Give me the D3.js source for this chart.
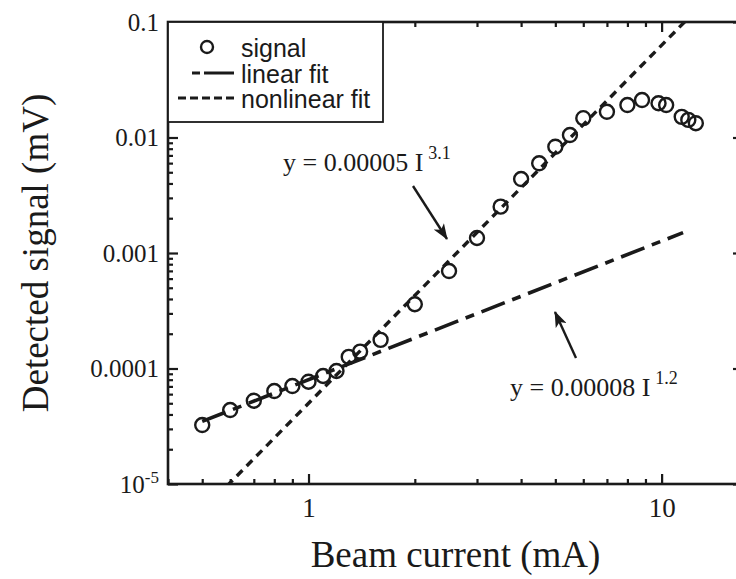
<!DOCTYPE html>
<html>
<head>
<meta charset="utf-8">
<script src="https://cdn.jsdelivr.net/npm/d3@7"></script>
<style>
  html, body { margin: 0; padding: 0; background: #fff; }
  svg { display: block; }
</style>
</head>
<body>
<svg id="chart" width="736" height="579"></svg>
<script>
// Measured signal versus beam current
const current = [0.5, 0.6, 0.7, 0.8, 0.9, 1.0, 1.1, 1.2, 1.3, 1.4, 1.6, 2.0, 2.5, 3.0, 3.5,
                 4.0, 4.5, 5.0, 5.5, 6.0, 7.0, 8.0, 8.8, 9.8, 10.3, 11.4, 11.9, 12.5];
const signal = [3.24e-5, 4.37e-5, 5.26e-5, 6.38e-5, 7.05e-5, 7.69e-5, 8.61e-5, 9.51e-5, 1.26e-4,
                1.40e-4, 1.77e-4, 3.6e-4, 6.98e-4, 1.35e-3, 2.52e-3, 4.37e-3, 5.98e-3, 8.32e-3,
                0.0105, 0.0147, 0.0167, 0.0191, 0.0211, 0.0198, 0.0191, 0.0151, 0.0142, 0.0133];

// Power-law fits y = a * I^b
const linearFit = { a: 0.00008, b: 1.2, from: 0.5, to: 11.5 };
const nonlinearFit = { a: 0.00005, b: 3.1, from: 0.4, to: 17 };

// Axis ticks
const xMajorTicks = [1, 10];
const xTickLabels = ["1", "10"];
const yMajorTicks = [1e-5, 1e-4, 1e-3, 1e-2, 1e-1];
const yTickLabels = ["10", "0.0001", "0.001", "0.01", "0.1"];

const legendLabels = ["signal", "linear fit", "nonlinear fit"];

const SERIF = "'Liberation Serif', 'Times New Roman', serif";
const SANS = "'Liberation Sans', Arial, sans-serif";
const INK = "#1a1a1a";

const plot = { left: 168, right: 743, top: 22, bottom: 484 };

const x = d3.scaleLog().domain([0.4, 17]).range([plot.left, plot.right]);
const y = d3.scaleLog().domain([1e-5, 0.1]).range([plot.bottom, plot.top]);

const svg = d3.select("#chart");

// minor ticks 2..9 in each decade inside the domain
function minorTicks(scale) {
  const [lo, hi] = scale.domain();
  const out = [];
  for (let e = Math.floor(Math.log10(lo)); e <= Math.ceil(Math.log10(hi)); e++) {
    for (let m = 2; m <= 9; m++) {
      const v = m * Math.pow(10, e);
      if (v >= lo && v <= hi) out.push(v);
    }
  }
  return out;
}
const xMinor = minorTicks(x);
const yMinor = minorTicks(y);

function styleAxis(g) {
  g.select(".domain").remove();
  g.selectAll(".tick line").attr("stroke", INK).attr("stroke-width", 2.2);
}

// bottom
svg.append("g").attr("transform", `translate(0,${plot.bottom})`)
  .call(d3.axisBottom(x).tickValues(xMinor).tickSize(-5).tickFormat(""))
  .call(styleAxis);
const xb = svg.append("g").attr("transform", `translate(0,${plot.bottom})`)
  .call(d3.axisBottom(x).tickValues(xMajorTicks).tickSize(-10).tickPadding(14)
        .tickFormat((d, i) => xTickLabels[i]))
  .call(styleAxis);
xb.selectAll(".tick text").attr("font-family", SERIF).attr("font-size", 27).attr("fill", INK);

// top (mirror)
svg.append("g").attr("transform", `translate(0,${plot.top})`)
  .call(d3.axisTop(x).tickValues(xMinor).tickSize(-5).tickFormat(""))
  .call(styleAxis);
svg.append("g").attr("transform", `translate(0,${plot.top})`)
  .call(d3.axisTop(x).tickValues(xMajorTicks).tickSize(-10).tickFormat(""))
  .call(styleAxis);

// left
svg.append("g").attr("transform", `translate(${plot.left},0)`)
  .call(d3.axisLeft(y).tickValues(yMinor).tickSize(-5).tickFormat(""))
  .call(styleAxis);
const yl = svg.append("g").attr("transform", `translate(${plot.left},0)`)
  .call(d3.axisLeft(y).tickValues(yMajorTicks).tickSize(-10).tickPadding(9)
        .tickFormat((d, i) => yTickLabels[i]))
  .call(styleAxis);
yl.selectAll(".tick text").attr("font-family", SERIF).attr("font-size", 25).attr("fill", INK);
// exponent on the lowest decade label
yl.selectAll(".tick text").filter(d => d === 1e-5)
  .text(null)
  .call(t => {
    t.append("tspan").text("10");
    t.append("tspan").attr("font-size", 17).attr("dy", -10).text("-5");
  })
  .attr("dy", "0.32em");

// right (mirror)
svg.append("g").attr("transform", `translate(${plot.right},0)`)
  .call(d3.axisRight(y).tickValues(yMinor).tickSize(-5).tickFormat(""))
  .call(styleAxis);
svg.append("g").attr("transform", `translate(${plot.right},0)`)
  .call(d3.axisRight(y).tickValues(yMajorTicks).tickSize(-10).tickFormat(""))
  .call(styleAxis);

// frame
svg.append("rect")
  .attr("x", plot.left).attr("y", plot.top)
  .attr("width", plot.right - plot.left).attr("height", plot.bottom - plot.top)
  .attr("fill", "none").attr("stroke", INK).attr("stroke-width", 2.6);

// clip for the fit lines
svg.append("clipPath").attr("id", "plotClip").append("rect")
  .attr("x", plot.left).attr("y", plot.top)
  .attr("width", plot.right - plot.left).attr("height", plot.bottom - plot.top);

const line = d3.line().x(d => x(d[0])).y(d => y(d[1]));
const fitPoints = f => [f.from, f.to].map(I => [I, f.a * Math.pow(I, f.b)]);

const LIN_DASH = "25,8,9,8";
const NONLIN_DASH = "8,6";

svg.append("path")
  .attr("clip-path", "url(#plotClip)")
  .attr("d", line(fitPoints(nonlinearFit)))
  .attr("fill", "none").attr("stroke", INK).attr("stroke-width", 3.4)
  .attr("stroke-dasharray", NONLIN_DASH);

svg.append("path")
  .attr("clip-path", "url(#plotClip)")
  .attr("d", line(fitPoints(linearFit)))
  .attr("fill", "none").attr("stroke", INK).attr("stroke-width", 3.6)
  .attr("stroke-dasharray", LIN_DASH);

// data points
svg.append("g").selectAll("circle")
  .data(current.map((c, i) => [c, signal[i]]))
  .join("circle")
  .attr("cx", d => x(d[0])).attr("cy", d => y(d[1])).attr("r", 7)
  .attr("fill", "none").attr("stroke", INK).attr("stroke-width", 2.4);

// legend
const lg = svg.append("g");
lg.append("rect").attr("x", plot.left).attr("y", plot.top)
  .attr("width", 215).attr("height", 100)
  .attr("fill", "#fff").attr("stroke", INK).attr("stroke-width", 1.8);
lg.append("circle").attr("cx", 207).attr("cy", 47).attr("r", 6)
  .attr("fill", "none").attr("stroke", INK).attr("stroke-width", 2.4);
lg.append("path").attr("d", "M192,73H234")
  .attr("stroke", INK).attr("stroke-width", 3)
  .attr("stroke-dasharray", "8,4,30,0");
lg.append("path").attr("d", "M178,98H237")
  .attr("stroke", INK).attr("stroke-width", 3)
  .attr("stroke-dasharray", "8,4");
lg.selectAll("text.leg").data(legendLabels).join("text")
  .attr("class", "leg")
  .attr("x", 241).attr("y", (d, i) => 57 + i * 25.5)
  .attr("font-family", SANS).attr("font-size", 25).attr("fill", INK)
  .text(d => d);

// fit annotations
function annotate(xp, yp, base, exp) {
  const t = svg.append("text").attr("x", xp).attr("y", yp)
    .attr("font-family", SERIF).attr("font-size", 26).attr("fill", INK);
  t.append("tspan").text(base);
  t.append("tspan").attr("dx", 5).attr("dy", -12).attr("font-size", 18).text(exp);
}
annotate(283, 171, "y = 0.00005 I", "3.1");
annotate(510, 396, "y = 0.00008 I", "1.2");

// arrows
svg.append("defs").append("marker")
  .attr("id", "head").attr("viewBox", "0 0 16 12")
  .attr("refX", 15).attr("refY", 6)
  .attr("markerWidth", 16).attr("markerHeight", 12)
  .attr("markerUnits", "userSpaceOnUse")
  .attr("orient", "auto")
  .append("path").attr("d", "M0,0L16,6L0,12L4,6Z").attr("fill", INK);

function arrow(x1, y1, x2, y2) {
  svg.append("line").attr("x1", x1).attr("y1", y1).attr("x2", x2).attr("y2", y2)
    .attr("stroke", INK).attr("stroke-width", 2.4)
    .attr("marker-end", "url(#head)");
}
arrow(413, 186, 447, 239);
arrow(576, 358, 555, 312);

// axis titles
svg.append("text")
  .attr("x", (plot.left + plot.right) / 2).attr("y", 567)
  .attr("text-anchor", "middle")
  .attr("font-family", SERIF).attr("font-size", 37).attr("fill", INK)
  .text("Beam current (mA)");

svg.append("text")
  .attr("transform", `translate(48,${(plot.top + plot.bottom) / 2}) rotate(-90)`)
  .attr("text-anchor", "middle")
  .attr("font-family", SERIF).attr("font-size", 37).attr("fill", INK)
  .text("Detected signal (mV)");
</script>
</body>
</html>
